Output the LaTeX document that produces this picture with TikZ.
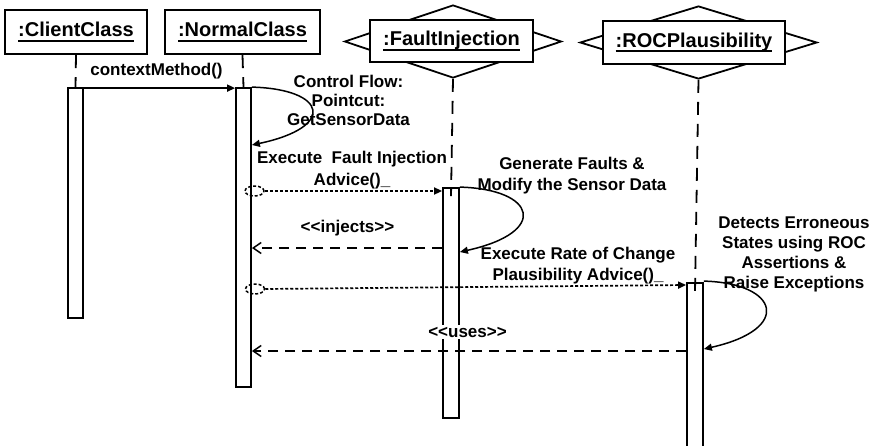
\documentclass[tikz,border=0pt]{standalone}
\usepackage{fontspec}
\newfontfamily\diagfont{Liberation Sans}
\usetikzlibrary{arrows.meta,shapes.geometric}
% underlined object name with a heavy rule
\newcommand\objname[1]{\setbox0\hbox{#1}\rlap{\rule[-4.6pt]{\wd0}{1.7pt}}\box0}

\begin{document}
\begin{tikzpicture}[x=1pt,y=-1pt,
  every node/.style={inner sep=0pt},
  lbl/.style={font=\diagfont\bfseries\fontsize{17}{20.5}\selectfont, align=center},
  head/.style={draw, fill=white, line width=2.1pt, minimum height=44pt,
    font=\diagfont\bfseries\fontsize{20}{24}\selectfont},
  stereo/.style={diamond, draw, line width=1.8pt, inner sep=0pt},
  lifeline/.style={line width=1.8pt, dash pattern=on 13pt off 9pt},
  activation/.style={draw, fill=white, line width=1.8pt, minimum width=15pt},
  call/.style={line width=1.7pt, -{Triangle[length=8pt,width=7pt]}},
  asynccall/.style={line width=1.7pt, dash pattern=on 3pt off 2pt, -{Triangle[length=8pt,width=7pt]}},
  selfcall/.style={line width=1.5pt, -{Triangle[length=8pt,width=7pt]}},
  reply/.style={line width=1.5pt, dash pattern=on 10pt off 7pt, -{Straight Barb[length=8pt,width=11pt]}},
  joinpoint/.style={ellipse, draw, line width=1.5pt, dash pattern=on 3pt off 2pt, minimum width=19pt, minimum height=10pt},
]
\fill[white] (0,0) rectangle (878,445);
\useasboundingbox (0,0) rectangle (878,445);

% aspect stereotype diamonds behind the object boxes
\node[stereo, minimum width=217pt, minimum height=73pt] (diaF) at (453,41.5) {};
\node[stereo, minimum width=237pt, minimum height=73pt] (diaR) at (698.5,42.5) {};

% object heads
\node[head, minimum width=142pt] (hdrC) at (76,32) {\objname{:ClientClass}};
\node[head, minimum width=155pt] (hdrN) at (242.5,32) {\objname{:NormalClass}};
\node[head, minimum width=163pt, minimum height=42pt] (hdrF) at (451.5,41) {\objname{:FaultInjection}};
\node[head, minimum width=182pt, minimum height=43pt] (hdrR) at (694,42.5) {\objname{:ROCPlausibility}};

% activation bars
\node[activation, minimum height=230pt] (actC) at (75.5,203) {};
\node[activation, minimum height=299pt] (actN) at (243.5,237.5) {};
\node[activation, minimum width=16pt, minimum height=230pt] (actF) at (451,303) {};
\node[activation, minimum width=16pt, minimum height=170pt] (actR) at (695,368) {};

% lifelines
\draw[lifeline] (hdrC.south) -- (actC.north);
\draw[lifeline] (hdrN.south) -- (actN.north);
\draw[lifeline] (diaF.south) -- ([yshift=-9pt]actF.north);
\draw[lifeline] (diaR.south) -- ([yshift=-9pt]actR.north);

% message rows
\coordinate (rowN) at (0,145);
\coordinate (rowF) at (0,252);
\coordinate (rowR) at (0,349);
\coordinate (rowInj) at (0,248);
\coordinate (rowUse) at (0,351);

% contextMethod() call
\draw[call] ([yshift=-1pt]actC.north east) -- ([yshift=-1pt]actN.north west);
\node[lbl, anchor=base] (lblCM) at (156.5,75) {contextMethod()};

% pointcut self call
\draw[selfcall] (actN.north east) .. controls +(75,2) and +(85,-18) .. (actN.east |- rowN);
\node[lbl, font=\diagfont\bfseries\fontsize{17}{19}\selectfont] (lblCF) at (348.5,100) {Control Flow:\\Pointcut:\\GetSensorData};

% fault injection advice
\node[joinpoint] (jp1) at (254.5,191) {};
\draw[asynccall] (jp1.east) -- (jp1.east -| actF.west);
\node[lbl, font=\diagfont\bfseries\fontsize{17}{22}\selectfont] (lblEF) at (352,170.5) {Execute\ \ Fault Injection\\Advice()\_};

\draw[selfcall] (actF.north east) .. controls +(76,2) and +(90,-20) .. (actF.east |- rowF);
\node[lbl, font=\diagfont\bfseries\fontsize{17}{21}\selectfont] (lblGF) at (572,176) {Generate Faults \&\\Modify the Sensor Data};

\draw[reply] (actF.west |- rowInj) -- (actN.east |- rowInj);
\node[lbl] (lblInj) at (347.5,228) {<<injects>>};

% rate of change plausibility advice
\node[joinpoint] (jp2) at (255,289) {};
\draw[asynccall] (jp2.east) -- ([yshift=4pt]jp2.east -| actR.west);
\node[lbl, font=\diagfont\bfseries\fontsize{17}{21.5}\selectfont] (lblER) at (578,265.5) {Execute Rate of Change\\Plausibility Advice()\_};

\draw[selfcall] ([yshift=1pt]actR.north east) .. controls +(75,2) and +(89,-20) .. (actR.east |- rowR);
\node[lbl, font=\diagfont\bfseries\fontsize{17}{20}\selectfont] (lblDE) at (794,254.5) {Detects Erroneous\\States using ROC\\Assertions \&\\Raise Exceptions};

\draw[reply] (actR.west |- rowUse) -- (actN.east |- rowUse);
\node[lbl, fill=white, inner sep=2pt] (lblUse) at (467.5,332) {<<uses>>};
\end{tikzpicture}
\end{document}
